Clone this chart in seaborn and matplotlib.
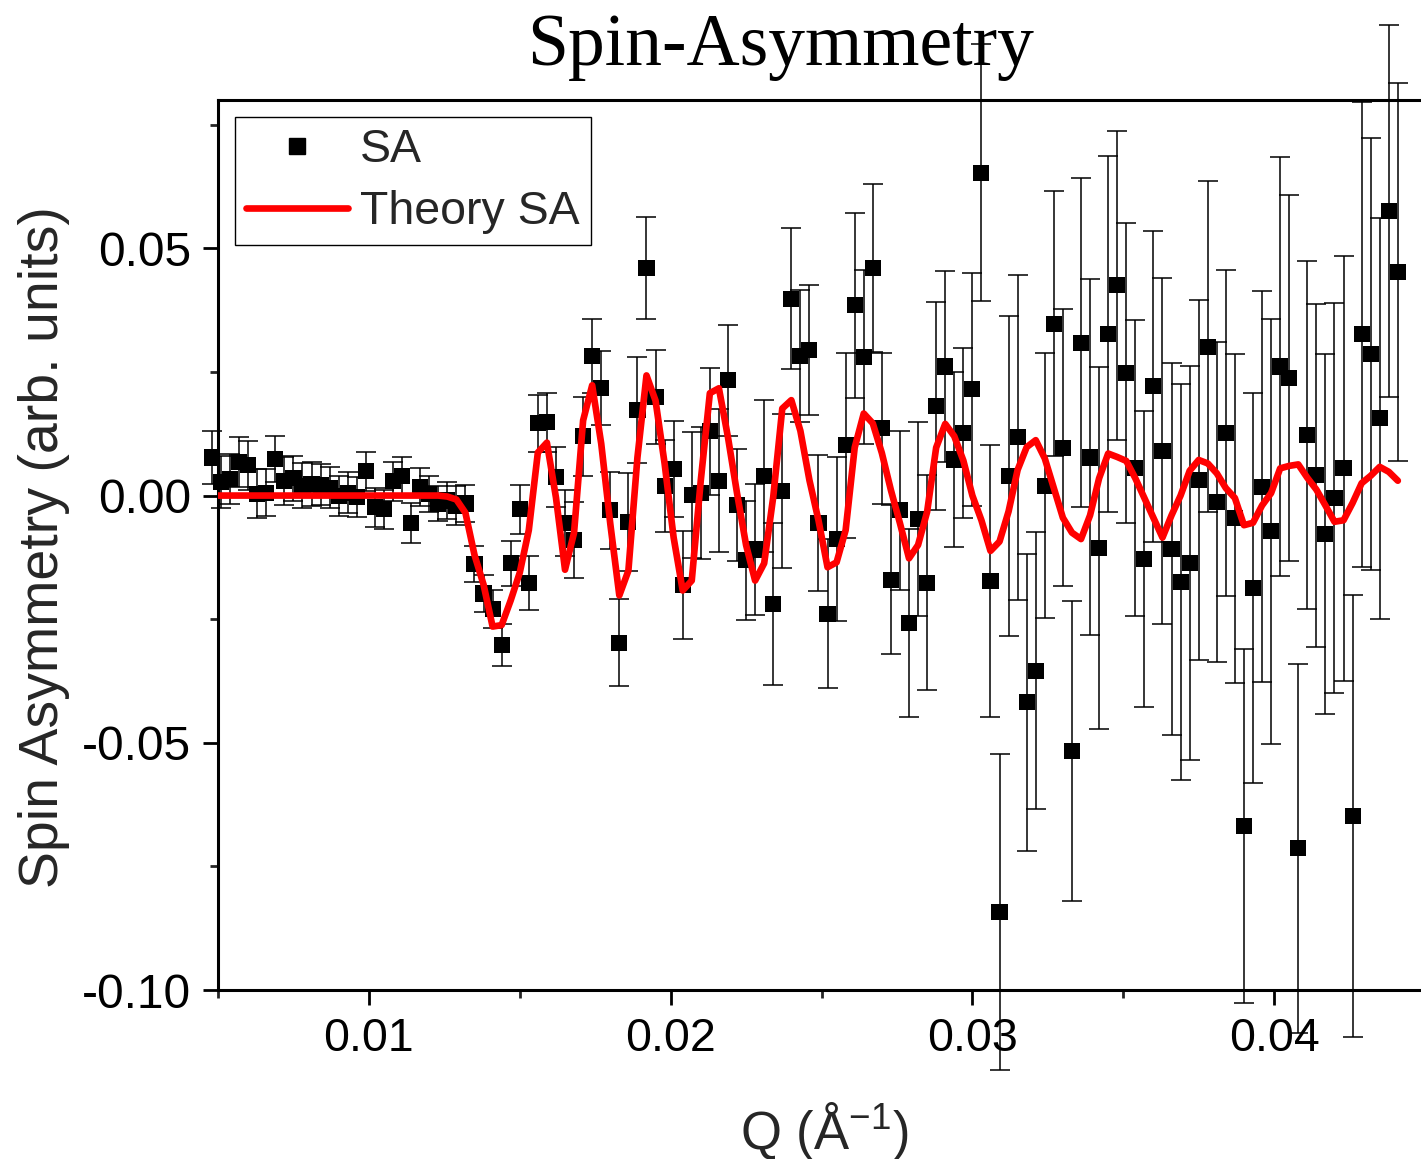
import numpy as np
import pandas as pd
import matplotlib
matplotlib.use("Agg")
import matplotlib.pyplot as plt
from matplotlib.ticker import MultipleLocator, FuncFormatter
from matplotlib.lines import Line2D
import seaborn as sns

# ---------------- data ----------------
Q = [0.0048, 0.0051, 0.0054, 0.0057, 0.0060, 0.0063, 0.0066, 0.0069, 0.0072, 0.0075,
     0.0078, 0.0081, 0.0084, 0.0087, 0.0090, 0.0093, 0.0096, 0.0099, 0.0102, 0.0105,
     0.0108, 0.0111, 0.0114, 0.0117, 0.0120, 0.0123, 0.0126, 0.0129, 0.0132, 0.0135,
     0.0138, 0.0141, 0.0144, 0.0147, 0.0150, 0.0153, 0.0156, 0.0159, 0.0162, 0.0165,
     0.0168, 0.0171, 0.0174, 0.0177, 0.0180, 0.0183, 0.0186, 0.0189, 0.0192, 0.0195,
     0.0198, 0.0201, 0.0204, 0.0207, 0.0210, 0.0213, 0.0216, 0.0219, 0.0222, 0.0225,
     0.0228, 0.0231, 0.0234, 0.0237, 0.0240, 0.0243, 0.0246, 0.0249, 0.0252, 0.0255,
     0.0258, 0.0261, 0.0264, 0.0267, 0.0270, 0.0273, 0.0276, 0.0279, 0.0282, 0.0285,
     0.0288, 0.0291, 0.0294, 0.0297, 0.0300, 0.0303, 0.0306, 0.0309, 0.0312, 0.0315,
     0.0318, 0.0321, 0.0324, 0.0327, 0.0330, 0.0333, 0.0336, 0.0339, 0.0342, 0.0345,
     0.0348, 0.0351, 0.0354, 0.0357, 0.0360, 0.0363, 0.0366, 0.0369, 0.0372, 0.0375,
     0.0378, 0.0381, 0.0384, 0.0387, 0.0390, 0.0393, 0.0396, 0.0399, 0.0402, 0.0405,
     0.0408, 0.0411, 0.0414, 0.0417, 0.0420, 0.0423, 0.0426, 0.0429, 0.0432, 0.0435,
     0.0438, 0.0441]

SA = [0.0077, 0.0027, 0.0033, 0.0068, 0.0061, 0.0004, 0.0006, 0.0074, 0.0029, 0.0035,
      0.0020, 0.0023, 0.0022, 0.0016, -0.0001, 0.0006, -0.0003, 0.0049, -0.0024, -0.0028,
      0.0029, 0.0039, -0.0056, 0.0017, 0.0003, -0.0016, -0.0010, -0.0020, -0.0016, -0.0139,
      -0.0198, -0.0230, -0.0302, -0.0137, -0.0028, -0.0177, 0.0146, 0.0148, 0.0037, -0.0056,
      -0.0090, 0.0120, 0.0282, 0.0217, -0.0030, -0.0298, -0.0054, 0.0173, 0.0461, 0.0199,
      0.0019, 0.0053, -0.0181, 0.0001, 0.0005, 0.0130, 0.0030, 0.0233, -0.0019, -0.0131,
      -0.0109, 0.0039, -0.0220, 0.0009, 0.0398, 0.0282, 0.0294, -0.0055, -0.0239, -0.0088,
      0.0102, 0.0385, 0.0280, 0.0460, 0.0136, -0.0170, -0.0030, -0.0258, -0.0048, -0.0176,
      0.0181, 0.0261, 0.0073, 0.0126, 0.0215, 0.0653, -0.0172, -0.0842, 0.0040, 0.0118,
      -0.0418, -0.0354, 0.0020, 0.0347, 0.0097, -0.0516, 0.0309, 0.0077, -0.0106, 0.0327,
      0.0425, 0.0248, 0.0056, -0.0128, 0.0221, 0.0090, -0.0108, -0.0175, -0.0136, 0.0031,
      0.0301, -0.0013, 0.0127, -0.0046, -0.0668, -0.0187, 0.0018, -0.0072, 0.0261, 0.0237,
      -0.0713, 0.0122, 0.0041, -0.0078, -0.0005, 0.0055, -0.0648, 0.0326, 0.0286, 0.0156,
      0.0576, 0.0452]

SA_err = [0.0054, 0.0052, 0.0051, 0.0051, 0.0049, 0.0049, 0.0048, 0.0047, 0.0048, 0.0046,
          0.0046, 0.0044, 0.0042, 0.0042, 0.0041, 0.0041, 0.0040, 0.0040, 0.0040, 0.0039,
          0.0039, 0.0039, 0.0040, 0.0039, 0.0036, 0.0036, 0.0038, 0.0040, 0.0038, 0.0036,
          0.0037, 0.0038, 0.0042, 0.0045, 0.0049, 0.0054, 0.0058, 0.0059, 0.0061, 0.0067,
          0.0077, 0.0080, 0.0075, 0.0075, 0.0078, 0.0088, 0.0099, 0.0107, 0.0103, 0.0095,
          0.0093, 0.0097, 0.0110, 0.0127, 0.0134, 0.0128, 0.0145, 0.0112, 0.0113, 0.0120,
          0.0133, 0.0154, 0.0164, 0.0155, 0.0143, 0.0133, 0.0132, 0.0138, 0.0151, 0.0166,
          0.0187, 0.0187, 0.0176, 0.0170, 0.0153, 0.0150, 0.0160, 0.0190, 0.0196, 0.0218,
          0.0210, 0.0194, 0.0177, 0.0172, 0.0236, 0.0260, 0.0275, 0.0320, 0.0324, 0.0329,
          0.0300, 0.0280, 0.0268, 0.0268, 0.0280, 0.0303, 0.0333, 0.0360, 0.0367, 0.0360,
          0.0313, 0.0303, 0.0300, 0.0300, 0.0315, 0.0350, 0.0377, 0.0400, 0.0398, 0.0364,
          0.0335, 0.0323, 0.0330, 0.0333, 0.0358, 0.0394, 0.0395, 0.0430, 0.0424, 0.0370,
          0.0373, 0.0352, 0.0347, 0.0364, 0.0395, 0.0430, 0.0447, 0.0470, 0.0437, 0.0405,
          0.0376, 0.0382]

theory_SA = [0.0, 0.0, 0.0, 0.0, 0.0, 0.0, 0.0, 0.0, 0.0, 0.0,
             0.0, 0.0, 0.0, 0.0, 0.0, 0.0, 0.0, 0.0, 0.0, 0.0,
             0.0, 0.0, 0.0, 0.0, 0.0, 0.0, -0.0002, -0.0008, -0.0035, -0.0120,
             -0.0180, -0.0265, -0.0262, -0.0212, -0.0156, -0.0070, 0.0087, 0.0107, -0.0004, -0.0150,
             -0.0075, 0.0152, 0.0223, 0.0105, -0.0057, -0.0202, -0.0152, 0.0077, 0.0243, 0.0192,
             0.0065, -0.0085, -0.0192, -0.0172, 0.0031, 0.0207, 0.0217, 0.0118, 0.0005, -0.0100,
             -0.0172, -0.0137, -0.0003, 0.0176, 0.0193, 0.0131, 0.0031, -0.0050, -0.0145, -0.0135,
             -0.0070, 0.0097, 0.0166, 0.0146, 0.0086, 0.0011, -0.0056, -0.0127, -0.0100, -0.0033,
             0.0097, 0.0145, 0.0120, 0.0071, 0.0000, -0.0050, -0.0112, -0.0093, -0.0032, 0.0052,
             0.0098, 0.0112, 0.0075, 0.0015, -0.0045, -0.0075, -0.0088, -0.0040, 0.0035, 0.0085,
             0.0078, 0.0070, 0.0035, -0.0005, -0.0045, -0.0085, -0.0040, 0.0000, 0.0050, 0.0072,
             0.0065, 0.0045, 0.0015, -0.0005, -0.0060, -0.0055, -0.0020, 0.0005, 0.0055, 0.0060,
             0.0063, 0.0036, 0.0012, -0.0020, -0.0053, -0.0050, -0.0015, 0.0025, 0.0040, 0.0058,
             0.0048, 0.0030]

x_ticks = [0.01, 0.02, 0.03, 0.04]
y_ticks = [-0.10, -0.05, 0.00, 0.05]

df = pd.DataFrame({"Q": Q, "SA": SA, "err": SA_err, "theory": theory_SA})

# ---------------- style ----------------
sns.set_style("ticks")
plt.rcParams["font.family"] = ["Liberation Sans", "DejaVu Sans"]
plt.rcParams["axes.unicode_minus"] = False
plt.rcParams["mathtext.fontset"] = "custom"
plt.rcParams["mathtext.rm"] = "Liberation Sans"
plt.rcParams["mathtext.it"] = "Liberation Sans:italic"

W, H = 1421, 1159
fig = plt.figure(figsize=(W / 100, H / 100), dpi=100)
ax = fig.add_axes([218 / W, (H - 990) / H, (1425 - 218) / W, (990 - 100) / H])

# error bars
eb = ax.errorbar(df["Q"], df["SA"], yerr=df["err"], fmt="none", ecolor="black",
                 elinewidth=1.1, capsize=7, capthick=1.1, zorder=2)
for child in eb.get_children():
    child.set_clip_on(False)

sns.scatterplot(data=df, x="Q", y="SA", marker="s", s=135, color="black",
                edgecolor="none", linewidth=0, ax=ax, zorder=3, clip_on=False, legend=False)
sns.lineplot(data=df, x="Q", y="theory", color="#ff0000", linewidth=4.8, ax=ax,
             zorder=4, sort=False, estimator=None, legend=False)

ax.set_xlim(0.005, 0.045)
ax.set_ylim(-0.10, 0.08)
ax.set_xticks(x_ticks)
ax.set_yticks(y_ticks)
ax.xaxis.set_minor_locator(MultipleLocator(0.005))
ax.yaxis.set_minor_locator(MultipleLocator(0.025))
fmt = FuncFormatter(lambda v, p: "%.2f" % (0.0 if abs(v) < 1e-9 else v))
ax.xaxis.set_major_formatter(fmt)
ax.yaxis.set_major_formatter(fmt)

ax.tick_params(axis="both", which="major", direction="out", length=10.5, width=2.0,
               labelsize=34.5, pad=9, colors="black")
ax.tick_params(axis="x", which="major", labelsize=33.5)
ax.tick_params(axis="both", which="minor", direction="out", length=5.5, width=2.0)
ax.tick_params(axis="x", which="both", top=False, bottom=True)
ax.tick_params(axis="y", which="both", left=True, right=False)

for side in ["left", "bottom", "top", "right"]:
    ax.spines[side].set_visible(True)
    ax.spines[side].set_linewidth(2.2)
    ax.spines[side].set_color("black")
ax.grid(False)

ax.set_xlabel(r"Q (Å$^{\mathregular{-1}}$)", fontsize=38, va="center")
ax.xaxis.set_label_coords(0.5025, -0.158)
ax.set_ylabel("Spin Asymmetry (arb. units)", fontsize=40, va="center")
ax.yaxis.set_label_coords(-0.1442, 0.498)

fig.text(781 / W, 1 - 65 / H, "Spin-Asymmetry", family=["Liberation Serif", "DejaVu Serif"],
         fontsize=53, ha="center", va="baseline", color="black")

handles = [Line2D([], [], marker="s", color="black", linestyle="none", markersize=12),
           Line2D([], [], color="#ff0000", linewidth=4.8)]
leg = ax.legend(handles, ["SA", "Theory SA"], loc="upper left", frameon=True,
                fancybox=False, edgecolor="black", framealpha=1, fontsize=33.5,
                handlelength=2.2, handletextpad=0.25, borderaxespad=0.36,
                labelspacing=0.39, borderpad=0.24)
leg.get_frame().set_linewidth(1.0)

fig.savefig("out.png", dpi=100)
